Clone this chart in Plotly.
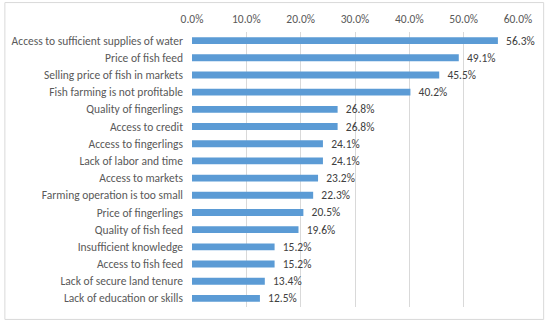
import plotly.graph_objects as go

categories = [
    "Access to sufficient supplies of water",
    "Price of fish feed",
    "Selling price of fish in markets",
    "Fish farming is not profitable",
    "Quality of fingerlings",
    "Access to credit",
    "Access to fingerlings",
    "Lack of labor and time",
    "Access to markets",
    "Farming operation is too small",
    "Price of fingerlings",
    "Quality of fish feed",
    "Insufficient knowledge",
    "Access to fish feed",
    "Lack of secure land tenure",
    "Lack of education or skills",
]
values = [56.3, 49.1, 45.5, 40.2, 26.8, 26.8, 24.1, 24.1, 23.2, 22.3, 20.5, 19.6, 15.2, 15.2, 13.4, 12.5]
tick_vals = [0, 10, 20, 30, 40, 50, 60]
tick_labels = ["0.0%", "10.0%", "20.0%", "30.0%", "40.0%", "50.0%", "60.0%"]

FONT = "Calibri, Carlito, 'Liberation Sans Narrow', 'Liberation Sans', sans-serif"
FS = 11.5

fig = go.Figure(go.Bar(
    x=values,
    y=categories,
    orientation="h",
    marker=dict(color="#5b9bd5", line=dict(width=0)),
    text=[f"\u00a0\u00a0{v:.1f}%" for v in values],
    textposition="outside",
    constraintext="none",
    textfont=dict(family=FONT, size=FS, color="#404040"),
    cliponaxis=False,
))

fig.update_layout(
    width=550, height=324,
    margin=dict(l=191.5, r=31.7, t=32.4, b=17.4, autoexpand=False),
    paper_bgcolor="white",
    plot_bgcolor="white",
    bargap=0.6,
    showlegend=False,
    font=dict(family=FONT, size=FS, color="#595959"),
    xaxis=dict(
        side="top",
        range=[0, 60],
        tickvals=tick_vals,
        ticktext=tick_labels,
        showgrid=True,
        gridcolor="#d9d9d9",
        gridwidth=1,
        zeroline=False,
        showline=False,
        ticks="",
        automargin=False,
        ticklabelstandoff=6,
        tickfont=dict(family=FONT, size=FS, color="#595959"),
    ),
    yaxis=dict(
        autorange="reversed",
        showgrid=False,
        zeroline=False,
        showline=False,
        ticks="",
        automargin=False,
        ticklabelstandoff=8,
        tickfont=dict(family=FONT, size=FS, color="#595959"),
    ),
    shapes=[dict(
        type="rect", xref="paper", yref="paper",
        x0=-0.574, x1=1.0787, y0=-0.0452, y1=1.107,
        line=dict(color="#d9d9d9", width=1),
        fillcolor="rgba(0,0,0,0)",
        layer="below",
    )],
)

fig.write_html(
    "out.html",
    config={"displayModeBar": False},
    post_script="document.body.style.margin='0';document.body.style.overflow='hidden';",
)
